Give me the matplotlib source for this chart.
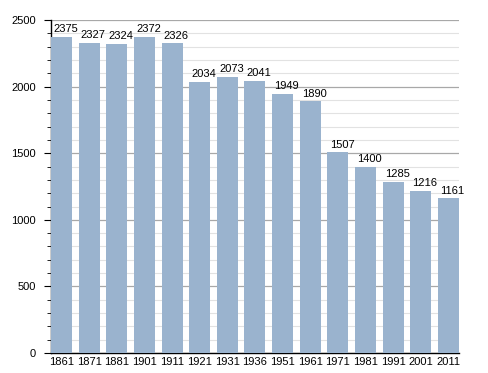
import matplotlib.pyplot as plt
from matplotlib.ticker import MultipleLocator

years = ['1861', '1871', '1881', '1901', '1911', '1921', '1931', '1936',
         '1951', '1961', '1971', '1981', '1991', '2001', '2011']
population = [2375, 2327, 2324, 2372, 2326, 2034, 2073, 2041,
              1949, 1890, 1507, 1400, 1285, 1216, 1161]

plt.rcParams['font.family'] = ['Liberation Sans', 'DejaVu Sans']

fig = plt.figure(figsize=(4.88, 3.73), dpi=100)
ax = fig.add_axes([0.1045, 0.0536, 0.836, 0.8924])

x = range(len(years))
bars = ax.bar(x, population, width=0.76, color='#9ab3ce', zorder=3)

# value labels sit a little right of the bar centre, like the original
for xi, v in zip(x, population):
    ax.annotate(str(v), (xi, v), xytext=(3, 2), textcoords='offset points',
                ha='center', va='bottom', fontsize=8, color='black')

ax.set_xlim(-0.38, len(years) - 1 + 0.38)
ax.set_ylim(0, 2500)
ax.set_xticks(list(x))
ax.set_xticklabels(years)
ax.yaxis.set_major_locator(MultipleLocator(500))
ax.yaxis.set_minor_locator(MultipleLocator(100))

ax.grid(axis='y', which='major', color='#a8a8a8', linewidth=0.9, zorder=0)
ax.grid(axis='y', which='minor', color='#e2e2e2', linewidth=0.8, zorder=0)

ax.tick_params(axis='x', length=0, labelsize=8, pad=3)
ax.tick_params(axis='y', which='major', length=5, labelsize=8, pad=6)
ax.tick_params(axis='y', which='minor', length=3)

for s in ['top', 'right']:
    ax.spines[s].set_visible(False)
ax.spines['left'].set_linewidth(1.0)
ax.spines['bottom'].set_linewidth(1.0)

fig.savefig('out.png', dpi=100)
